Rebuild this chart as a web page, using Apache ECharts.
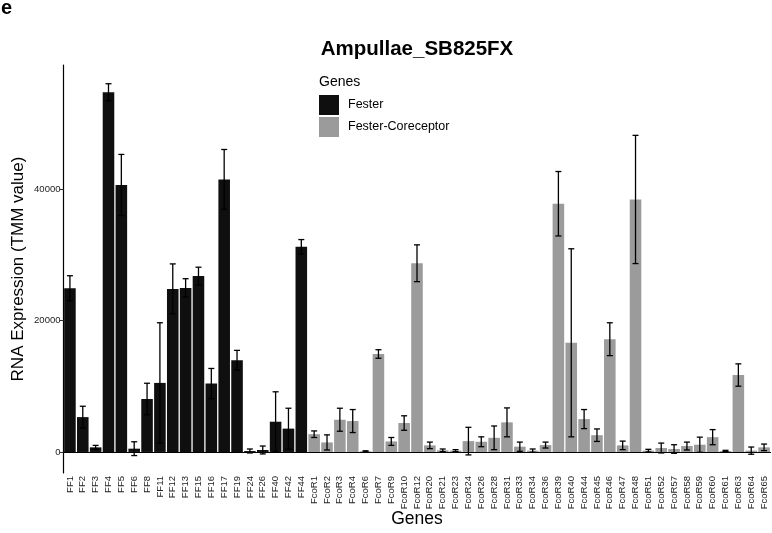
<!DOCTYPE html>
<html>
<head>
<meta charset="utf-8">
<script src="https://cdn.jsdelivr.net/npm/echarts@6/dist/echarts.min.js"></script>
<style>
html,body{margin:0;padding:0;background:#fff;}
#chart{width:772px;height:533px;}
</style>
</head>
<body>
<div id="chart"></div>
<script>
const genes = ['FF1','FF2','FF3','FF4','FF5','FF6','FF8','FF11','FF12','FF13','FF15','FF16','FF17','FF19','FF24','FF26','FF40','FF42','FF44',
  'FcoR1','FcoR2','FcoR3','FcoR4','FcoR6','FcoR7','FcoR9','FcoR10','FcoR12','FcoR20','FcoR21','FcoR23','FcoR24','FcoR26','FcoR28','FcoR31','FcoR33','FcoR34','FcoR36','FcoR39','FcoR40','FcoR44','FcoR45','FcoR46','FcoR47','FcoR48','FcoR51','FcoR52','FcoR57','FcoR58','FcoR59','FcoR60','FcoR61','FcoR63','FcoR64','FcoR65'];
const means = [24900,5300,700,54700,40600,500,8050,10500,24800,24950,26750,10400,41450,13950,150,300,4600,3550,31200,
  2700,1450,4900,4700,100,14900,1600,4400,28700,1000,250,200,1650,1550,2150,4500,800,200,1050,37750,16600,5000,2550,17150,1000,38400,200,600,450,900,1100,2250,150,11700,200,700];
const sds = [1900,1650,300,1300,4650,1050,2400,9150,3800,1400,1350,2300,4550,1500,300,600,4550,3100,1100,
  500,1150,1750,1750,80,650,600,1100,2800,500,200,150,2100,750,1800,2200,700,250,450,4900,14300,1450,950,2500,650,9750,200,750,650,600,1150,1150,100,1700,550,500];
const groupNames = ['Fester','Fester-Coreceptor'];
const groupColors = ['#0f0f0f','#9b9b9b'];
const yTicks = [0, 20000, 40000];

const groupOf = genes.map(g => g.startsWith('FF') ? 0 : 1);
const font = 'Liberation Sans, Arial, Helvetica, sans-serif';

const barSeries = groupNames.map((name, gi) => ({
  name: name,
  type: 'bar',
  barGap: '-100%',
  barCategoryGap: '10%',
  itemStyle: { color: groupColors[gi] },
  data: means.map((v, i) => groupOf[i] === gi ? v : null),
  z: 2
}));

const errSeries = {
  type: 'custom',
  z: 5,
  data: genes.map((g, i) => [i, means[i] - sds[i], means[i] + sds[i]]),
  encode: { x: 0, y: [1, 2] },
  renderItem: function (params, api) {
    const x = api.value(0);
    const pLo = api.coord([x, api.value(1)]);
    const pHi = api.coord([x, api.value(2)]);
    const hw = 3;
    const st = { stroke: '#000', lineWidth: 1.3 };
    return {
      type: 'group',
      children: [
        { type: 'line', shape: { x1: pHi[0], y1: pHi[1], x2: pLo[0], y2: pLo[1] }, style: st },
        { type: 'line', shape: { x1: pHi[0] - hw, y1: pHi[1], x2: pHi[0] + hw, y2: pHi[1] }, style: st },
        { type: 'line', shape: { x1: pLo[0] - hw, y1: pLo[1], x2: pLo[0] + hw, y2: pLo[1] }, style: st }
      ]
    };
  }
};

const chart = echarts.init(document.getElementById('chart'));
chart.setOption({
  animation: false,
  backgroundColor: '#fff',
  textStyle: { fontFamily: font },
  graphic: [
    { type: 'text', x: 417, y: 49, style: { text: 'Ampullae_SB825FX', font: 'bold 20.5px ' + font, fill: '#000', textAlign: 'center', textVerticalAlign: 'middle' } },
    { type: 'text', left: 1, top: -2, style: { text: 'e', font: 'bold 20px ' + font, fill: '#000' } },
    { type: 'text', left: 319, top: 75, style: { text: 'Genes', font: '14px ' + font, fill: '#000' } }
  ],
  legend: {
    orient: 'vertical',
    left: 319,
    top: 95,
    padding: 0,
    itemWidth: 20,
    itemHeight: 20,
    itemGap: 2,
    icon: 'rect',
    data: groupNames,
    textStyle: { fontFamily: font, fontSize: 12.5, color: '#000', padding: [0, 0, 0, 4] }
  },
  grid: { left: 63.5, right: 1.5, top: 65, bottom: 60, containLabel: false, outerBoundsMode: 'none' },
  xAxis: {
    type: 'category',
    data: genes,
    name: 'Genes',
    nameLocation: 'middle',
    nameMoveOverlap: false,
    nameGap: 37,
    nameTextStyle: { fontFamily: font, fontSize: 17.5, color: '#000' },
    axisLine: { lineStyle: { color: '#000', width: 1.2 } },
    axisTick: { alignWithLabel: true, length: 4, lineStyle: { color: '#333' } },
    axisLabel: { rotate: 90, interval: 0, fontSize: 9.5, color: '#222', margin: 3, fontFamily: font }
  },
  yAxis: {
    type: 'value',
    min: -3200,
    max: 58850,
    name: 'RNA Expression (TMM value)',
    nameLocation: 'middle',
    nameMoveOverlap: false,
    nameGap: 37,
    nameTextStyle: { fontFamily: font, fontSize: 17, color: '#000' },
    axisLine: { show: true, lineStyle: { color: '#000', width: 1.2 } },
    axisTick: { show: true, length: 4, customValues: yTicks, lineStyle: { color: '#333' } },
    axisLabel: { customValues: yTicks, fontSize: 9.5, color: '#222', margin: 3, fontFamily: font, formatter: v => String(v) },
    splitLine: { show: false }
  },
  series: [...barSeries, errSeries]
});
</script>
</body>
</html>
